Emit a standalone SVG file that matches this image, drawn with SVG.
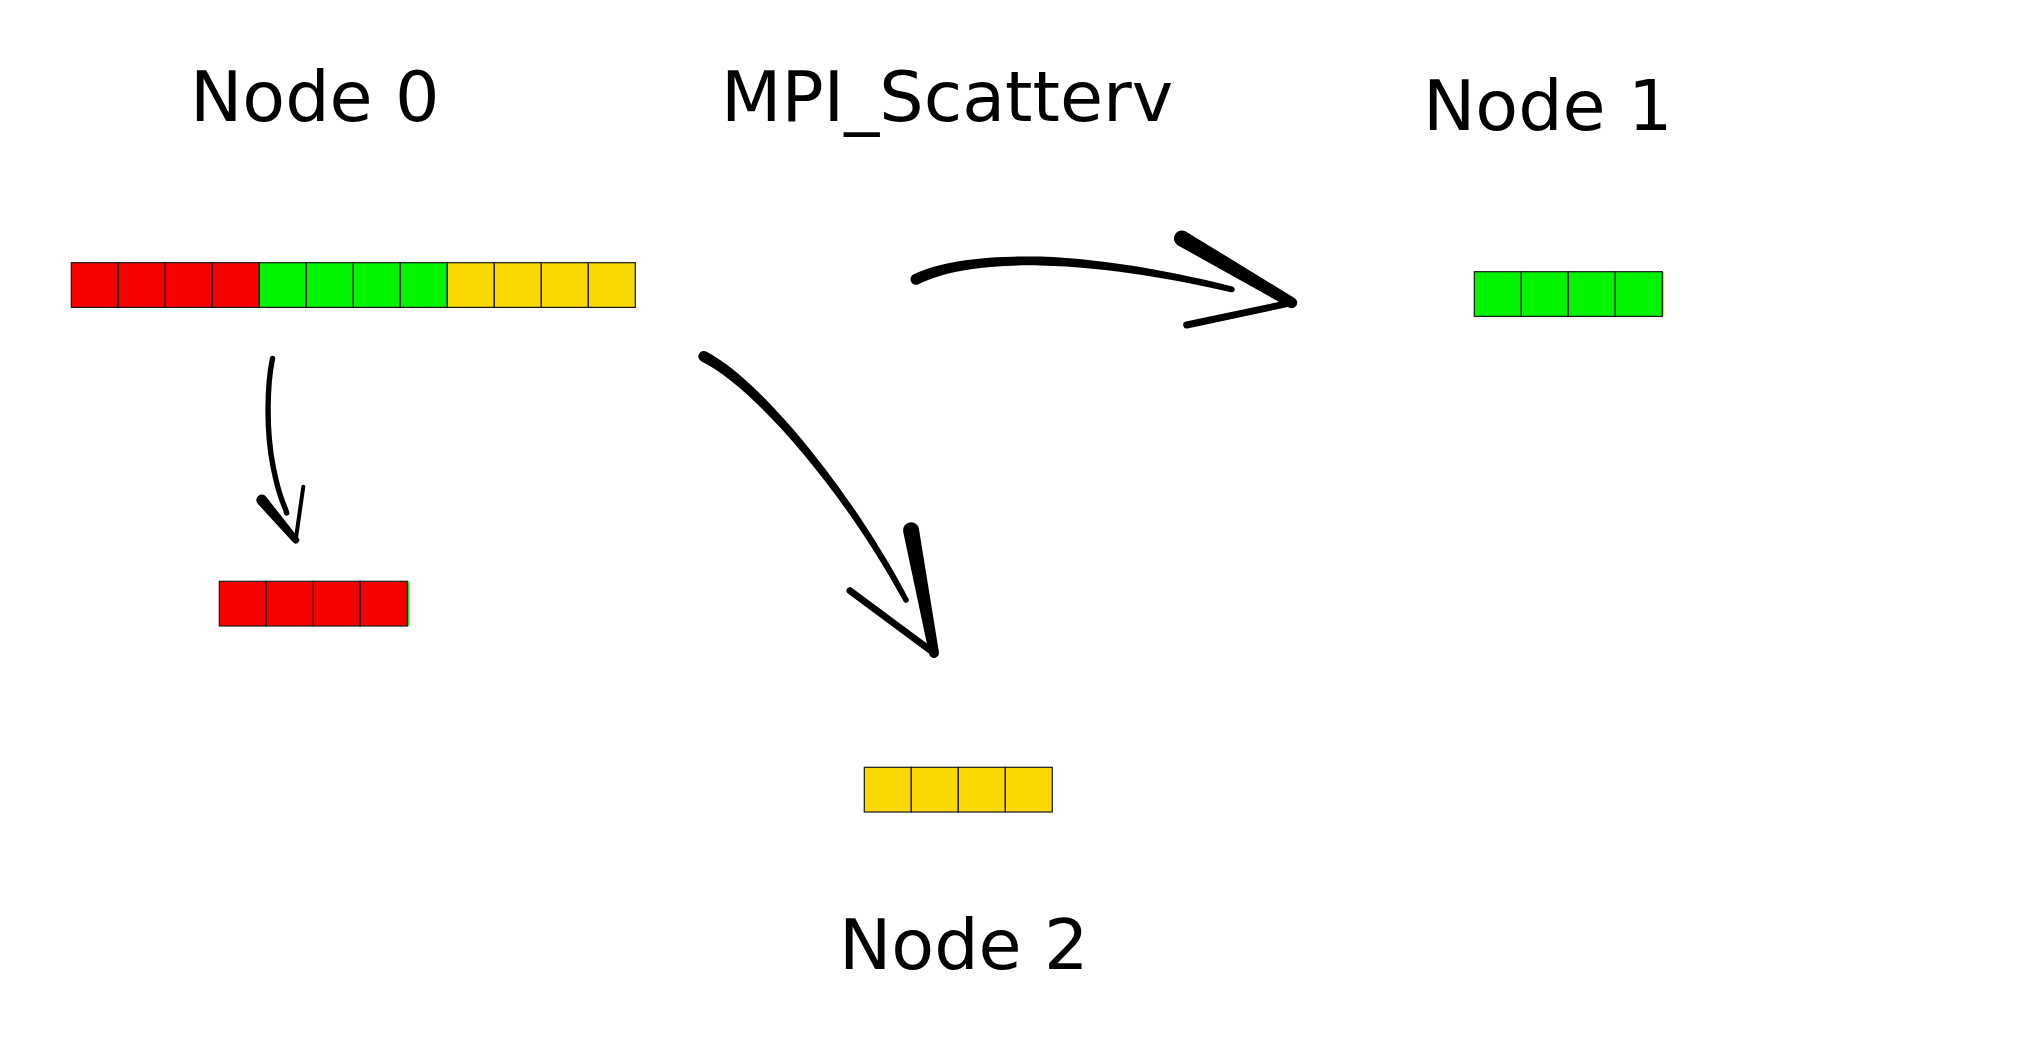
<svg xmlns="http://www.w3.org/2000/svg" width="2032" height="1048" viewBox="0 0 2032 1048">
<defs>
<style>
.lbl{font-family:"DejaVu Sans","Liberation Sans",sans-serif;font-size:70px;fill:#000}
.r{fill:#f80000}
.g{fill:#00f400}
.y{fill:#f8d904}
.cell{stroke:#1a1a1a;stroke-width:1.2}
.ink{fill:#000}
.ln{fill:none;stroke:#000;stroke-linecap:round;stroke-linejoin:round}
</style>
<filter id="soft" x="-10%" y="-10%" width="120%" height="120%"><feGaussianBlur stdDeviation="0.5"/></filter>
</defs>
<rect width="2032" height="1048" fill="#fff"/>

<g id="title"><text class="lbl" x="721" y="121">MPI_Scatterv</text></g>

<g id="node0">
<text class="lbl" x="190" y="121">Node 0</text>
<g class="cell">
<rect class="r" x="71.3" y="262.7" width="47" height="44.7"/>
<rect class="r" x="118.3" y="262.7" width="47" height="44.7"/>
<rect class="r" x="165.3" y="262.7" width="47" height="44.7"/>
<rect class="r" x="212.3" y="262.7" width="47" height="44.7"/>
<rect class="g" x="259.3" y="262.7" width="47" height="44.7"/>
<rect class="g" x="306.3" y="262.7" width="47" height="44.7"/>
<rect class="g" x="353.3" y="262.7" width="47" height="44.7"/>
<rect class="g" x="400.3" y="262.7" width="47" height="44.7"/>
<rect class="y" x="447.3" y="262.7" width="47" height="44.7"/>
<rect class="y" x="494.3" y="262.7" width="47" height="44.7"/>
<rect class="y" x="541.3" y="262.7" width="47" height="44.7"/>
<rect class="y" x="588.3" y="262.7" width="47" height="44.7"/>
</g>
<g class="cell">
<rect class="r" x="219.3" y="581.3" width="47" height="44.7"/>
<rect class="r" x="266.3" y="581.3" width="47" height="44.7"/>
<rect class="r" x="313.3" y="581.3" width="47" height="44.7"/>
<rect class="r" x="360.3" y="581.3" width="47" height="44.7"/>
</g>
<rect class="g" x="408" y="581.5" width="1.2" height="44.5"/>
</g>

<g id="node1">
<text class="lbl" x="1423" y="130">Node 1</text>
<g class="cell">
<rect class="g" x="1474.3" y="271.7" width="47" height="44.7"/>
<rect class="g" x="1521.3" y="271.7" width="47" height="44.7"/>
<rect class="g" x="1568.3" y="271.7" width="47" height="44.7"/>
<rect class="g" x="1615.3" y="271.7" width="47" height="44.7"/>
</g>
<rect class="y" x="1663" y="272" width="1.2" height="44.2"/>
</g>

<g id="node2">
<text class="lbl" x="839" y="969">Node 2</text>
<g class="cell">
<rect class="y" x="864.3" y="767.3" width="47" height="44.7"/>
<rect class="y" x="911.3" y="767.3" width="47" height="44.7"/>
<rect class="y" x="958.3" y="767.3" width="47" height="44.7"/>
<rect class="y" x="1005.3" y="767.3" width="47" height="44.7"/>
</g>
</g>

<g id="connectors" filter="url(#soft)">
<g id="arrow-local">
<path class="ln" stroke-width="5.4" d="M272.5,358.5 C267,385 266,430 273,466 S283,500 286.7,513"/>
<path class="ink" d="M265.89,496.44 L298.37,537.73 A3.5,3.5 0 0 1 293.03,542.27 L257.51,503.56 A5.5,5.5 0 0 1 265.89,496.44 Z"/>
<path class="ln" stroke-width="4" d="M295.7,540 L303.3,486.7"/>
</g>
<g id="arrow-node2">
<path class="ink" d="M706.19,351.5 C762.27,380.54 853.18,493.3 908.47,598.68 A2.8,2.8 0 0 1 903.53,601.32 C846.82,496.7 757.73,389.46 701.21,361.3 A5.5,5.5 0 0 1 706.19,351.5 Z"/>
<path class="ink" d="M918.86,528.53 L938.92,652.08 A5,5 0 0 1 929.09,653.92 L903.14,531.47 A8,8 0 0 1 918.86,528.53 Z"/>
<path class="ln" stroke-width="7" d="M850,590.7 L934,653"/>
</g>
<g id="arrow-node1">
<path class="ink" d="M913.56,274.37 C942.7,260.34 990.09,255.4 1040.09,256.6 C1110.08,259 1180.77,273.79 1232.4,286.38 A3,3 0 0 1 1231,292.22 C1179.23,280.21 1109.92,267 1039.91,265.4 C989.91,264.6 947.3,269.66 918.44,284.23 A5.5,5.5 0 0 1 913.56,274.37 Z"/>
<path class="ink" d="M1185.74,231.4 L1294.48,297.95 A5.5,5.5 0 0 1 1288.92,307.45 L1177.66,245.2 A8,8 0 0 1 1185.74,231.4 Z"/>
<path class="ln" stroke-width="7" d="M1291.7,302.7 L1186.7,325"/>
</g>
</g>
</svg>
